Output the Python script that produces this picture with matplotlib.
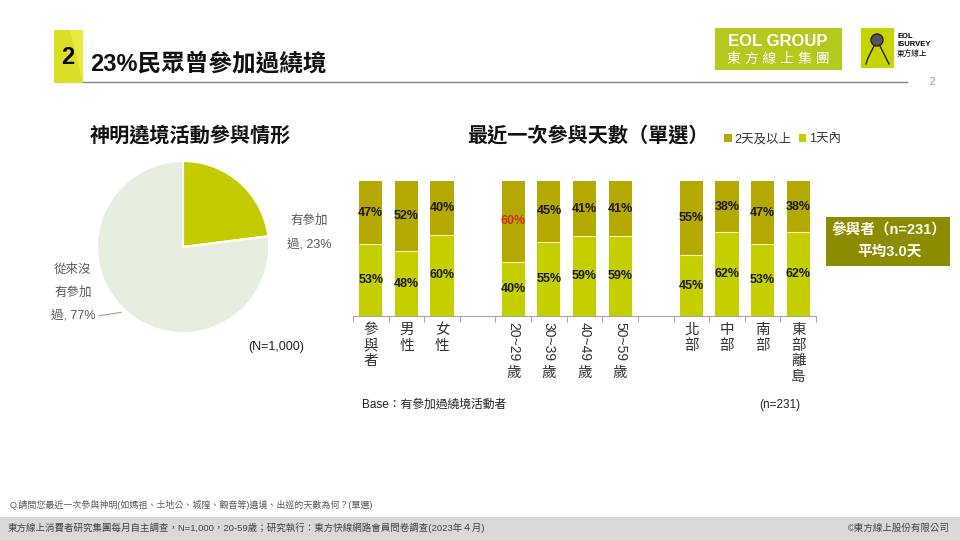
import matplotlib
matplotlib.use("Agg")
import matplotlib.pyplot as plt
import matplotlib.patches as mpatches
from matplotlib.transforms import blended_transform_factory
import numpy as np

plt.rcParams['font.family'] = ['Liberation Sans', 'Noto Sans CJK TC', 'DejaVu Sans']

# ---------------- data ----------------
pie_labels = ['有參加過', '從來沒有參加過']
pie_values = [23, 77]

categories = ['參與者', '男性', '女性', '20~29歲', '30~39歲', '40~49歲', '50~59歲',
              '北部', '中部', '南部', '東部離島']
group_sizes = [3, 4, 4]
within_1day = [53, 48, 60, 40, 55, 59, 59, 45, 62, 53, 62]
two_plus = [47, 52, 40, 60, 45, 41, 41, 55, 38, 47, 38]
series_names = ['2天及以上', '1天內']
highlight_upper = [3]  # 20~29歲 upper label in red

W, H = 960, 540
fig = plt.figure(figsize=(9.6, 5.4), dpi=100)
fig.patch.set_facecolor('white')

def fx(px):
    return px / W

def fy(py):
    return 1 - py / H

# overlay axes for decorations
deco = fig.add_axes([0, 0, 1, 1])
deco.set_xlim(0, W)
deco.set_ylim(H, 0)
deco.axis('off')

# header block
deco.add_patch(mpatches.Rectangle((54, 30), 29, 53, facecolor='#E8EA40', edgecolor='none'))
deco.add_patch(mpatches.Polygon([(54, 30), (70, 30), (83, 83), (54, 83)], closed=True,
                                facecolor='#DADE24', edgecolor='none'))
deco.text(68, 58, '2', fontsize=17, fontweight='bold', ha='center', va='center', color='black')
deco.text(90, 64, '23%民眾曾參加過繞境', fontsize=17, fontweight='bold', ha='left', va='center',
          color='#111111')
deco.plot([83, 907], [82, 82], color='#808080', lw=1)
deco.text(932, 82, '2', fontsize=7, color='#909090', ha='center', va='center')

# logos
deco.add_patch(mpatches.Rectangle((715, 28), 127, 42, facecolor='#B5C81E', edgecolor='none'))
deco.text(778, 41, 'EOL GROUP', fontsize=12, fontweight='bold', color='white', ha='center', va='center')
deco.text(778, 59, '東 方 線 上 集 團', fontsize=10, color='white', ha='center', va='center')
deco.add_patch(mpatches.Rectangle((861, 28), 33, 40, facecolor='#C8D400', edgecolor='none'))
deco.add_patch(mpatches.Circle((877, 40), 6, facecolor='#555555', edgecolor='#222222'))
deco.plot([874, 868, 866], [46, 58, 64], color='#222222', lw=1)
deco.plot([880, 886, 889], [46, 58, 64], color='#222222', lw=1)
deco.text(897, 36, 'EOL', fontsize=5.5, fontweight='bold', color='black', ha='left', va='center')
deco.text(897, 45, 'ISURVEY', fontsize=5.5, fontweight='bold', color='black', ha='left', va='center')
deco.text(897, 54, '東方線上', fontsize=5.5, color='black', ha='left', va='center')

# section titles
deco.text(90, 136, '神明遶境活動參與情形', fontsize=14.5, fontweight='bold', ha='left', va='center',
          color='#111111')
deco.text(467, 136, '最近一次參與天數（單選）', fontsize=14.5, fontweight='bold', ha='left', va='center',
          color='#111111')

# footer
deco.text(10, 505, 'Q.請問您最近一次參與神明(如媽祖、土地公、城隍、觀音等)遶境、出巡的天數為何？(單選)',
          fontsize=6.5, color='#595959', ha='left', va='center')
deco.add_patch(mpatches.Rectangle((0, 517), W, 23, facecolor='#D9D9D9', edgecolor='none'))
deco.text(8, 528, '東方線上消費者研究集團每月自主調查，N=1,000，20-59歲；研究執行：東方快線網路會員問卷調查(2023年４月)',
          fontsize=6.8, color='#404040', ha='left', va='center')
deco.text(950, 528, '©東方線上股份有限公司', fontsize=6.8, color='#404040', ha='right', va='center')

# base text
deco.text(362, 405, 'Base：有參加過繞境活動者', fontsize=8.5, color='#222222', ha='left', va='center')
deco.text(800, 405, '(n=231)', fontsize=8.5, color='#222222', ha='right', va='center')

# summary box
deco.add_patch(mpatches.Rectangle((826, 217), 124, 49, facecolor='#8C8C00', edgecolor='none'))
deco.text(889, 230, '參與者（n=231）', fontsize=10.5, fontweight='bold', color='white', ha='center', va='center')
deco.text(889, 252, '平均3.0天', fontsize=10.5, fontweight='bold', color='white', ha='center', va='center')

# ---------------- pie ----------------
R = 86.0
cx, cy = 183, 247
pl, pr, pt, pb = 30, 340, 140, 370
axp = fig.add_axes([fx(pl), fy(pb), (pr - pl) / W, (pb - pt) / H])
axp.pie(pie_values, colors=['#C4CC00', '#E6EEDF'], startangle=90, counterclock=False,
        wedgeprops=dict(edgecolor='white', linewidth=1.5))
axp.set_aspect('auto')
axp.set_xlim((pl - cx) / R, (pr - cx) / R)
axp.set_ylim((cy - pb) / R, (cy - pt) / R)
axp.axis('off')
tc = '#595959'
axp.text(1.47, 0.31, '有參加', fontsize=9, color=tc, ha='center', va='center')
axp.text(1.47, 0.03, f'過, {pie_values[0]}%', fontsize=9, color=tc, ha='center', va='center')
axp.text(-1.28, -0.26, '從來沒', fontsize=9, color=tc, ha='center', va='center')
axp.text(-1.28, -0.53, '有參加', fontsize=9, color=tc, ha='center', va='center')
axp.text(-1.28, -0.80, f'過, {pie_values[1]}%', fontsize=9, color=tc, ha='center', va='center')
axp.plot([-0.98, -0.72], [-0.80, -0.76], color='#A0A0A0', lw=0.8)
axp.text(1.08, -1.16, '(N=1,000)', fontsize=9, color='#222222', ha='center', va='center')

# ---------------- bars ----------------
positions = []
p = 0
for gs in group_sizes:
    for i in range(gs):
        positions.append(p)
        p += 1
    p += 1
positions = np.array(positions)
n_slots = positions[-1] + 1

x0, x1 = 353, 816
ytop, ybot = 181, 316
axb = fig.add_axes([fx(x0), fy(ybot), (x1 - x0) / W, (ybot - ytop) / H])
low = np.array(within_1day)
up = np.array(two_plus)
total = low + up
bw = 0.65
b_low = axb.bar(positions, low / total, width=bw, color='#C5CF00', edgecolor='none', label=series_names[1])
b_up = axb.bar(positions, up / total, width=bw, bottom=low / total, color='#B5A800', edgecolor='none',
               label=series_names[0])
# thin light divider
axb.hlines(low / total, positions - bw / 2, positions + bw / 2, color='#F4F4C0', lw=0.8)
axb.set_xlim(-0.5, n_slots - 0.5)
axb.set_ylim(0, 1)
for i, xp in enumerate(positions):
    axb.text(xp, (low[i] / total[i]) / 2, f'{low[i]}%', ha='center', va='center', fontsize=9,
             fontweight='bold', color='#1a1a1a')
    c = '#D03010' if i in highlight_upper else '#1a1a1a'
    axb.text(xp, low[i] / total[i] + (up[i] / total[i]) / 2, f'{up[i]}%', ha='center', va='center',
             fontsize=9, fontweight='bold', color=c)

for s in ['top', 'right', 'left']:
    axb.spines[s].set_visible(False)
axb.spines['bottom'].set_color('#A6A6A6')
axb.set_yticks([])
axb.set_xticks(np.arange(-0.5, n_slots, 1.0))
axb.set_xticklabels([])
axb.tick_params(axis='x', direction='out', length=4, color='#A6A6A6')

trans = blended_transform_factory(axb.transData, fig.transFigure)
for xp, cat in zip(positions, categories):
    if cat[0].isdigit():
        num, suffix = cat[:-1], cat[-1]
        axb.text(xp, fy(322), num, transform=trans, rotation=-90, ha='center', va='top',
                 fontsize=10, color='#333333')
        axb.text(xp, fy(366), suffix, transform=trans, ha='center', va='top',
                 fontsize=10.5, color='#333333')
    else:
        axb.text(xp, fy(323), '\n'.join(cat), transform=trans, ha='center', va='top',
                 fontsize=10.5, color='#333333', linespacing=1.15)

fig.legend(handles=[b_up, b_low], labels=series_names, loc='center left',
           bbox_to_anchor=(fx(713), fy(139)), ncol=2, frameon=False, fontsize=9,
           handlelength=0.6, handleheight=0.6, handletextpad=0.2, columnspacing=0.6,
           labelcolor='#333333')

fig.savefig('out.png', dpi=100, facecolor='white')
